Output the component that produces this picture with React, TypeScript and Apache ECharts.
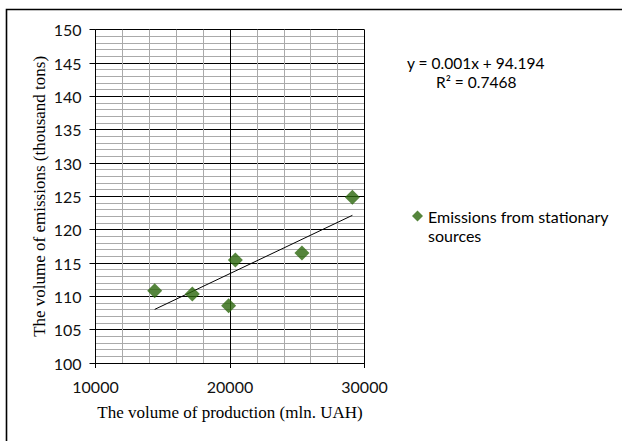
import React, { useEffect, useRef } from "react";
import * as echarts from "echarts";

const seriesName = "Emissions from stationary sources";
const legendLine1 = "Emissions from stationary";
const legendLine2 = "sources";
const productionValues = [14400, 17200, 19900, 20400, 25350, 29100];
const emissionValues = [110.85, 110.35, 108.6, 115.45, 116.5, 124.85];
const equationText = "y = 0.001x + 94.194";
const r2Text = "R\u00B2 = 0.7468";
const xTitle = "The volume of production (mln. UAH)";
const yTitle = "The volume of emissions (thousand tons)";

function regression(xs: number[], ys: number[]) {
  const n = xs.length;
  const mx = xs.reduce((a, b) => a + b, 0) / n;
  const my = ys.reduce((a, b) => a + b, 0) / n;
  let sxy = 0;
  let sxx = 0;
  for (let i = 0; i < n; i++) {
    sxy += (xs[i] - mx) * (ys[i] - my);
    sxx += (xs[i] - mx) * (xs[i] - mx);
  }
  const slope = sxy / sxx;
  return { slope, intercept: my - slope * mx };
}

export default function App() {
  const ref = useRef<HTMLDivElement>(null);
  useEffect(() => {
    if (!ref.current) return;
    const chart = echarts.init(ref.current, null, { renderer: "svg" });
    const { slope, intercept } = regression(productionValues, emissionValues);
    const xMin = Math.min(...productionValues);
    const xMax = Math.max(...productionValues);
    const trend = [
      [xMin, slope * xMin + intercept],
      [xMax, slope * xMax + intercept],
    ];
    const sans = "Lato, 'Noto Sans', sans-serif";
    const serif = "'Liberation Serif', 'DejaVu Serif', serif";
    chart.setOption({
      animation: false,
      backgroundColor: "#fff",
      grid: { left: 95.5, right: 257.5, top: 29.7, bottom: 78, containLabel: false },
      xAxis: {
        type: "value",
        min: 10000,
        max: 30000,
        interval: 10000,
        name: xTitle,
        nameLocation: "middle",
        nameGap: 41,
        nameTextStyle: { fontFamily: serif, fontSize: 17, color: "#000" },
        axisLine: { show: true, lineStyle: { color: "#000", width: 1 } },
        axisTick: { show: true, length: 5, lineStyle: { color: "#000" } },
        axisLabel: {
          fontFamily: sans,
          fontSize: 16,
          color: "#111",
          margin: 15,
          formatter: (v: number) => String(v),
        },
        splitLine: { show: true, lineStyle: { color: "#000", width: 1 } },
        minorTick: { show: false, splitNumber: 5 },
        minorSplitLine: { show: true, lineStyle: { color: "#aaaaaa", width: 1 } },
      },
      yAxis: {
        type: "value",
        min: 100,
        max: 150,
        interval: 5,
        name: yTitle,
        nameLocation: "middle",
        nameGap: 48,
        nameTextStyle: { fontFamily: serif, fontSize: 17, color: "#000" },
        axisLine: { show: true, lineStyle: { color: "#000", width: 1 } },
        axisTick: { show: true, length: 6, lineStyle: { color: "#000" } },
        axisLabel: {
          fontFamily: sans,
          fontSize: 16,
          color: "#111",
          margin: 14,
          formatter: (v: number) => String(v),
        },
        splitLine: { show: true, lineStyle: { color: "#000", width: 1 } },
        minorTick: { show: false, splitNumber: 5 },
        minorSplitLine: { show: true, lineStyle: { color: "#aaaaaa", width: 1 } },
      },
      legend: {
        data: [seriesName],
        left: 412,
        top: 208,
        padding: 0,
        orient: "vertical",
        icon: "diamond",
        itemWidth: 11,
        itemHeight: 11,
        formatter: () => legendLine1,
        textStyle: {
          fontFamily: sans,
          fontSize: 16,
          color: "#000",
          lineHeight: 16,
        },
      },
      graphic: [
        {
          type: "rect",
          shape: { x: 6.5, y: 9.5, width: 800, height: 600 },
          style: { fill: "none", stroke: "#000", lineWidth: 1.6 },
          silent: true,
        },
        {
          type: "text",
          x: 407,
          y: 63,
          style: {
            text: equationText,
            fontFamily: sans,
            fontSize: 15.5,
            fill: "#000",
            align: "left",
            verticalAlign: "middle",
          },
        },
        {
          type: "text",
          x: 436,
          y: 82,
          style: {
            text: r2Text,
            fontFamily: sans,
            fontSize: 15.5,
            fill: "#000",
            align: "left",
            verticalAlign: "middle",
          },
        },
        {
          type: "text",
          x: 428,
          y: 235,
          style: {
            text: legendLine2,
            fontFamily: sans,
            fontSize: 16,
            lineHeight: 16,
            fill: "#000",
            align: "left",
            verticalAlign: "middle",
          },
        },
      ],
      series: [
        {
          name: "Linear trend",
          type: "line",
          data: trend,
          symbol: "none",
          lineStyle: { color: "#000", width: 1 },
          z: 3,
          silent: true,
        },
        {
          name: seriesName,
          type: "scatter",
          data: productionValues.map((x, i) => [x, emissionValues[i]]),
          symbol: "diamond",
          symbolSize: 15,
          itemStyle: { color: "#2a660b" },
          z: 4,
        },
      ],
    });
    return () => chart.dispose();
  }, []);
  return (
    <div
      ref={ref}
      style={{ position: "fixed", left: 0, top: 0, width: 622, height: 441 }}
    />
  );
}
